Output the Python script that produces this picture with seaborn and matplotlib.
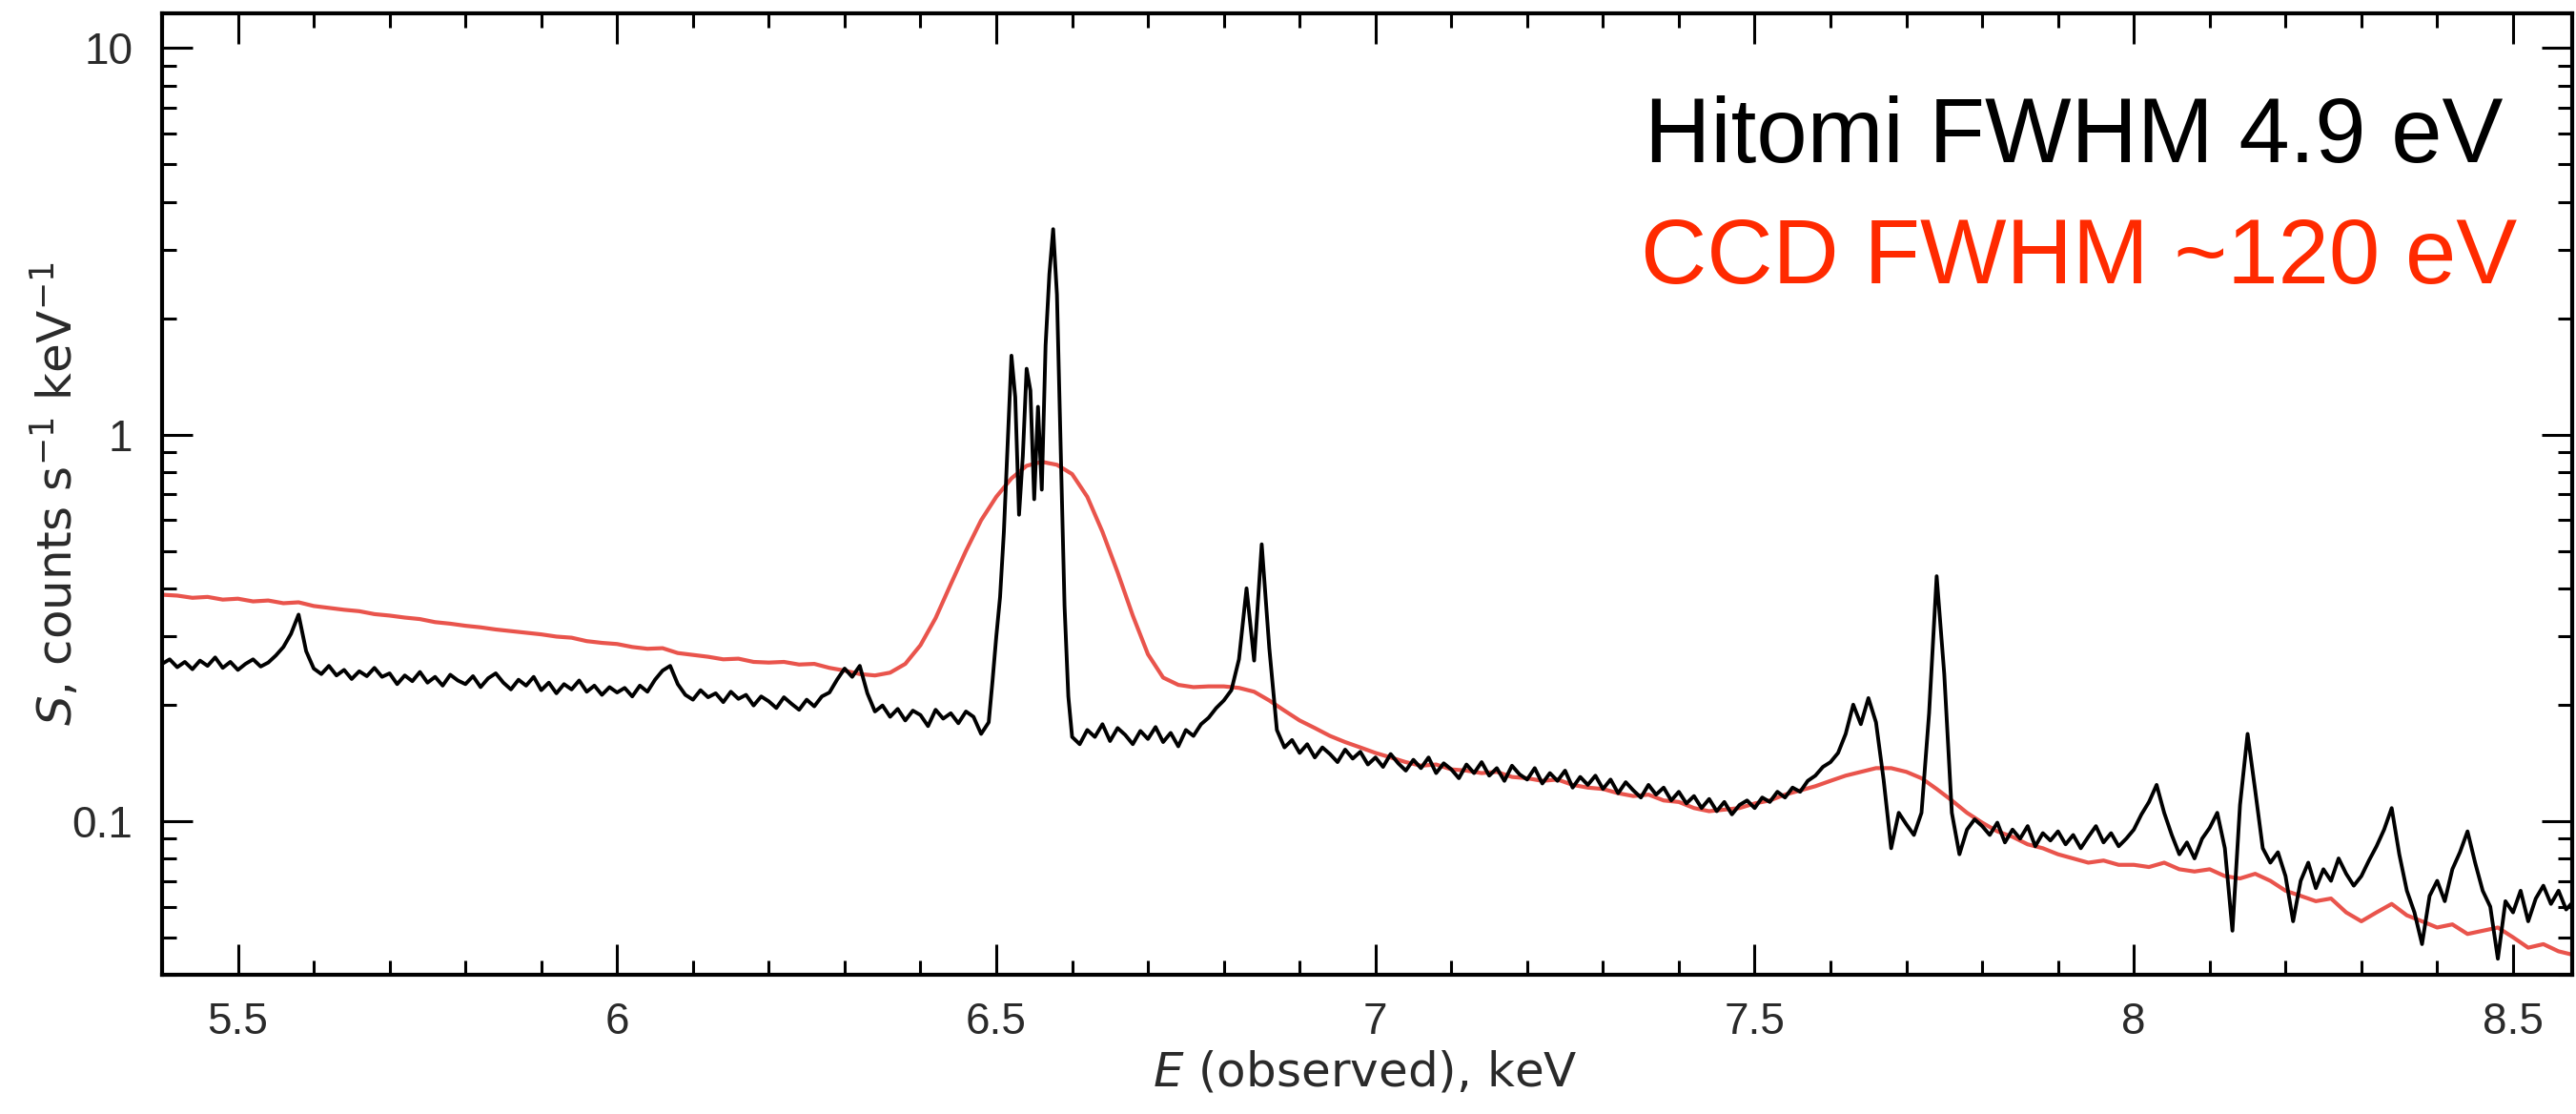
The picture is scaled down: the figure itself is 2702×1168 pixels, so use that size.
import numpy as np
import matplotlib
matplotlib.use("Agg")
import matplotlib.pyplot as plt
import matplotlib.ticker as mticker
import seaborn as sns

# ---------------- data ----------------
# Hitomi SXS spectrum: 10 eV bins, with 5 eV bins across the Fe XXV He-alpha complex
hitomi_e_low = np.round(np.linspace(5.40, 6.48, 109), 3)
hitomi_e_fe = np.round(np.linspace(6.490, 6.600, 23), 3)
hitomi_e_high = np.round(np.linspace(6.61, 8.58, 198), 3)

hitomi_s_low = [
    0.255, 0.262, 0.250, 0.258, 0.247, 0.260, 0.252, 0.265, 0.249, 0.258,
    0.246, 0.255, 0.262, 0.251, 0.257, 0.268, 0.282, 0.305, 0.342, 0.275,
    0.248, 0.240, 0.252, 0.238, 0.246, 0.233, 0.244, 0.237, 0.249, 0.236,
    0.241, 0.226, 0.238, 0.230, 0.243, 0.228, 0.236, 0.224, 0.239, 0.231,
    0.226, 0.237, 0.222, 0.234, 0.241, 0.228, 0.219, 0.232, 0.224, 0.236,
    0.218, 0.228, 0.214, 0.226, 0.219, 0.231, 0.216, 0.224, 0.212, 0.222,
    0.215, 0.221, 0.210, 0.224, 0.216, 0.232, 0.245, 0.252, 0.226, 0.212,
    0.206, 0.218, 0.209, 0.214, 0.203, 0.216, 0.207, 0.212, 0.199, 0.210,
    0.204, 0.196, 0.209, 0.201, 0.194, 0.206, 0.198, 0.210, 0.215, 0.232,
    0.248, 0.236, 0.252, 0.214, 0.192, 0.199, 0.186, 0.195, 0.182, 0.193,
    0.188, 0.176, 0.194, 0.184, 0.190, 0.179, 0.192, 0.186, 0.168,
]
hitomi_s_fe = [
    0.180, 0.230, 0.300, 0.380, 0.560, 0.950, 1.600, 1.250, 0.620, 0.880,
    1.480, 1.300, 0.680, 1.180, 0.720, 1.700, 2.600, 3.400, 2.300, 0.900,
    0.360, 0.210, 0.165,
]
hitomi_s_high = [
    0.158, 0.172, 0.165, 0.178, 0.161, 0.174, 0.167, 0.158, 0.171,
    0.163, 0.175, 0.160, 0.169, 0.156, 0.172, 0.166, 0.178, 0.185, 0.196,
    0.205, 0.218, 0.262, 0.400, 0.260, 0.520, 0.280, 0.172, 0.155, 0.162,
    0.150, 0.158, 0.146, 0.155, 0.149, 0.142, 0.153, 0.145, 0.151, 0.140,
    0.146, 0.138, 0.149, 0.141, 0.135, 0.144, 0.137, 0.146, 0.133, 0.141,
    0.136, 0.129, 0.140, 0.133, 0.142, 0.131, 0.137, 0.127, 0.139, 0.132,
    0.128, 0.137, 0.125, 0.133, 0.127, 0.135, 0.122, 0.130, 0.124, 0.131,
    0.121, 0.128, 0.118, 0.126, 0.120, 0.115, 0.124, 0.117, 0.122, 0.113,
    0.119, 0.111, 0.116, 0.108, 0.114, 0.106, 0.112, 0.104, 0.110, 0.113,
    0.108, 0.115, 0.112, 0.119, 0.115, 0.122, 0.119, 0.127, 0.131, 0.138,
    0.142, 0.150, 0.168, 0.200, 0.178, 0.208, 0.180, 0.128, 0.085, 0.105,
    0.098, 0.092, 0.105, 0.190, 0.430, 0.240, 0.105, 0.082, 0.095, 0.101,
    0.097, 0.092, 0.099, 0.088, 0.095, 0.090, 0.097, 0.086, 0.093, 0.089,
    0.094, 0.087, 0.092, 0.085, 0.091, 0.097, 0.088, 0.093, 0.086, 0.090,
    0.095, 0.104, 0.112, 0.124, 0.105, 0.092, 0.082, 0.088, 0.080, 0.090,
    0.096, 0.105, 0.085, 0.052, 0.110, 0.168, 0.120, 0.085, 0.078, 0.083,
    0.072, 0.055, 0.070, 0.078, 0.067, 0.075, 0.070, 0.080, 0.073, 0.068,
    0.072, 0.079, 0.086, 0.095, 0.108, 0.082, 0.066, 0.058, 0.048, 0.064,
    0.070, 0.062, 0.075, 0.083, 0.094, 0.078, 0.066, 0.060, 0.044, 0.062,
    0.058, 0.066, 0.055, 0.063, 0.068, 0.061, 0.066, 0.059, 0.062,
]

# CCD spectrum of the same source, 20 eV bins
ccd_e = np.round(np.linspace(5.40, 8.58, 160), 3)
ccd_s = [
    0.385, 0.383, 0.378, 0.380, 0.374, 0.376, 0.370, 0.372, 0.366, 0.368,
    0.360, 0.356, 0.352, 0.349, 0.343, 0.340, 0.336, 0.333, 0.327, 0.324,
    0.320, 0.317, 0.313, 0.310, 0.307, 0.304, 0.300, 0.298, 0.292, 0.289,
    0.287, 0.282, 0.279, 0.280, 0.272, 0.269, 0.266, 0.262, 0.263, 0.258,
    0.257, 0.258, 0.254, 0.255, 0.249, 0.245, 0.240, 0.238, 0.242, 0.255,
    0.285, 0.335, 0.410, 0.500, 0.600, 0.690, 0.770, 0.830, 0.850, 0.835,
    0.790, 0.690, 0.560, 0.440, 0.340, 0.270, 0.235, 0.225, 0.222, 0.223,
    0.223, 0.221, 0.216, 0.205, 0.193, 0.182, 0.174, 0.166, 0.160, 0.155,
    0.150, 0.146, 0.142, 0.139, 0.140, 0.136, 0.135, 0.133, 0.134, 0.130,
    0.129, 0.127, 0.128, 0.124, 0.122, 0.121, 0.118, 0.116, 0.117, 0.113,
    0.112, 0.108, 0.106, 0.107, 0.108, 0.111, 0.113, 0.117, 0.120, 0.123,
    0.127, 0.131, 0.134, 0.137, 0.137, 0.134, 0.129, 0.121, 0.113, 0.105,
    0.099, 0.094, 0.091, 0.087, 0.085, 0.082, 0.080, 0.078, 0.079, 0.077,
    0.077, 0.076, 0.078, 0.075, 0.074, 0.075, 0.072, 0.071, 0.073, 0.070,
    0.066, 0.064, 0.062, 0.063, 0.058, 0.055, 0.058, 0.061, 0.057, 0.055,
    0.053, 0.054, 0.051, 0.052, 0.053, 0.050, 0.047, 0.048, 0.046, 0.045,
]

x_major_ticks = [5.5, 6.0, 6.5, 7.0, 7.5, 8.0, 8.5]
x_tick_labels = ["5.5", "6", "6.5", "7", "7.5", "8", "8.5"]
y_major_ticks = [0.1, 1.0, 10.0]
y_tick_labels = ["0.1", "1", "10"]

label_hitomi = "Hitomi FWHM 4.9 eV"
label_ccd = "CCD FWHM ~120 eV"

hitomi_e = np.concatenate([hitomi_e_low, hitomi_e_fe, hitomi_e_high])
hitomi_s = np.array(hitomi_s_low + hitomi_s_fe + hitomi_s_high)

# ---------------- style ----------------
sns.set_theme(style="ticks")
plt.rcParams["font.family"] = ["Liberation Sans", "DejaVu Sans"]
plt.rcParams["mathtext.fontset"] = "dejavusans"

W, H = 2702, 1168
fig = plt.figure(figsize=(W / 100, H / 100), dpi=100)
fig.patch.set_facecolor("white")
ax = fig.add_axes([170 / W, 1 - 1022 / H, 2528 / W, 1008 / H])
ax.set_facecolor("white")

sns.lineplot(x=ccd_e, y=ccd_s, ax=ax, color="#e9544c", lw=3.0,
             estimator=None, sort=False)
sns.lineplot(x=hitomi_e, y=hitomi_s, ax=ax, color="black", lw=2.8,
             estimator=None, sort=False)

ax.set_yscale("log")
ax.set_xlim(5.40, 8.578)
ax.set_ylim(0.0400, 12.3)

ax.xaxis.set_major_locator(mticker.FixedLocator(x_major_ticks))
ax.xaxis.set_major_formatter(mticker.FixedFormatter(x_tick_labels))
ax.xaxis.set_minor_locator(mticker.MultipleLocator(0.1))
ax.yaxis.set_major_locator(mticker.FixedLocator(y_major_ticks))
ax.yaxis.set_major_formatter(mticker.FixedFormatter(y_tick_labels))
ax.yaxis.set_minor_locator(mticker.LogLocator(base=10, subs=np.arange(2, 10)))
ax.yaxis.set_minor_formatter(mticker.NullFormatter())

ax.tick_params(which="both", direction="in", top=True, right=True,
               color="black", width=2.2)
ax.tick_params(which="major", length=23, labelsize=33, labelcolor="#2a2a2a",
               pad=22)
ax.tick_params(which="minor", length=11)
ax.tick_params(axis="x", which="major", pad=20)
for sp in ax.spines.values():
    sp.set_linewidth(3.0)
    sp.set_color("black")

ax.set_xlabel(r"$E$ (observed), keV", fontsize=36, color="#2a2a2a",
              family="DejaVu Sans")
ax.set_ylabel(r"$S$, counts s$^{-1}$ keV$^{-1}$", fontsize=36,
              color="#2a2a2a", family="DejaVu Sans")
ax.xaxis.set_label_coords(0.499, -0.078)
ax.yaxis.set_label_coords(-0.033, 0.5)

ax.text(0.9715, 0.845, label_hitomi, transform=ax.transAxes, ha="right",
        va="baseline", fontsize=69, color="black")
ax.text(0.9771, 0.719, label_ccd, transform=ax.transAxes, ha="right",
        va="baseline", fontsize=69, color="#ff2a00")

fig.savefig("out.png", dpi=100, facecolor="white")
